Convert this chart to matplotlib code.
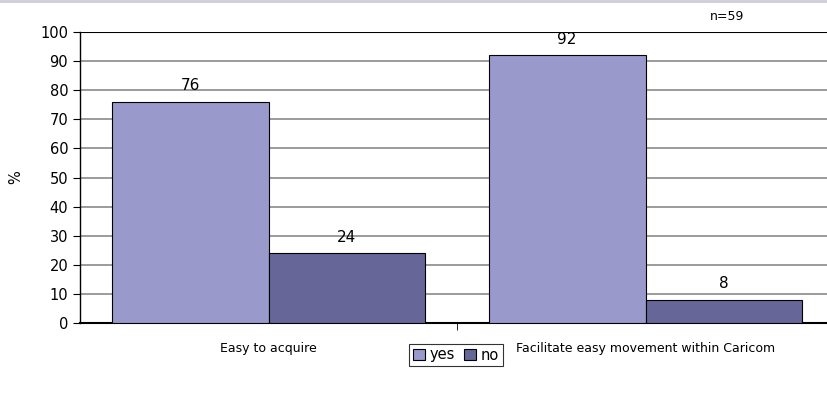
import matplotlib
matplotlib.use("Agg")
import matplotlib.pyplot as plt
import numpy as np
from matplotlib.lines import Line2D

categories = ["Easy to acquire", "Facilitate easy movement within Caricom"]
series_names = ["yes", "no"]
yes_vals = [76, 92]
no_vals = [24, 8]
yticks = list(range(0, 101, 10))

plt.rcParams['font.family'] = ['DejaVu Sans']

fig = plt.figure(figsize=(8.27, 4.0), dpi=100)
ax = fig.add_axes([80/827, (400-323)/400, 754/827, (323-32)/400])

x = np.arange(len(categories))
w = 0.416
c_yes = "#9999cc"
c_no = "#666699"
b1 = ax.bar(x - w/2, yes_vals, w, color=c_yes, edgecolor="black", linewidth=0.8, label=series_names[0], zorder=3)
b2 = ax.bar(x + w/2, no_vals, w, color=c_no, edgecolor="black", linewidth=0.8, label=series_names[1], zorder=3)

for rect, v in list(zip(b1, yes_vals)) + list(zip(b2, no_vals)):
    ax.text(rect.get_x() + rect.get_width()/2, v + 2.9, str(v), ha="center", va="bottom", fontsize=11, zorder=4)

ax.set_xlim(-0.5, 1.5)
ax.set_ylim(0, 100)
ax.set_yticks(yticks)
ax.set_yticklabels([str(t) for t in yticks], fontsize=10.5)
ax.yaxis.grid(True, color="#808080", linewidth=1.1, zorder=0)
ax.set_xticks(x)
ax.set_xticklabels(categories, fontsize=9)
ax.tick_params(axis="x", length=0, pad=14)
ax.set_xticks([0.5], minor=True)
ax.tick_params(axis="x", which="minor", length=5, direction="out")
ax.tick_params(axis="y", length=5, direction="out")
ax.set_ylabel("%", fontsize=10.5, labelpad=12)

for s in ["top", "right"]:
    ax.spines[s].set_visible(False)
ax.spines["left"].set_linewidth(1)
ax.spines["bottom"].set_linewidth(1.5)
ax.axhline(100, color="black", linewidth=1.5, zorder=2)

fig.text(727/827, 1 - 16/400, "n=59", ha="center", va="center", fontsize=9)

leg = ax.legend(loc="center", bbox_to_anchor=(456/827, 1 - 355/400), bbox_transform=fig.transFigure,
                ncol=2, frameon=True, fancybox=False, edgecolor="black", fontsize=10.5,
                handlelength=0.85, handleheight=0.85, handletextpad=0.3, columnspacing=0.6,
                borderpad=0.25, borderaxespad=0)
leg.get_frame().set_linewidth(0.8)

fig.add_artist(Line2D([0, 1], [1 - 1/400, 1 - 1/400], transform=fig.transFigure, color="#ccccdd", linewidth=2))

fig.savefig("out.png", dpi=100)
